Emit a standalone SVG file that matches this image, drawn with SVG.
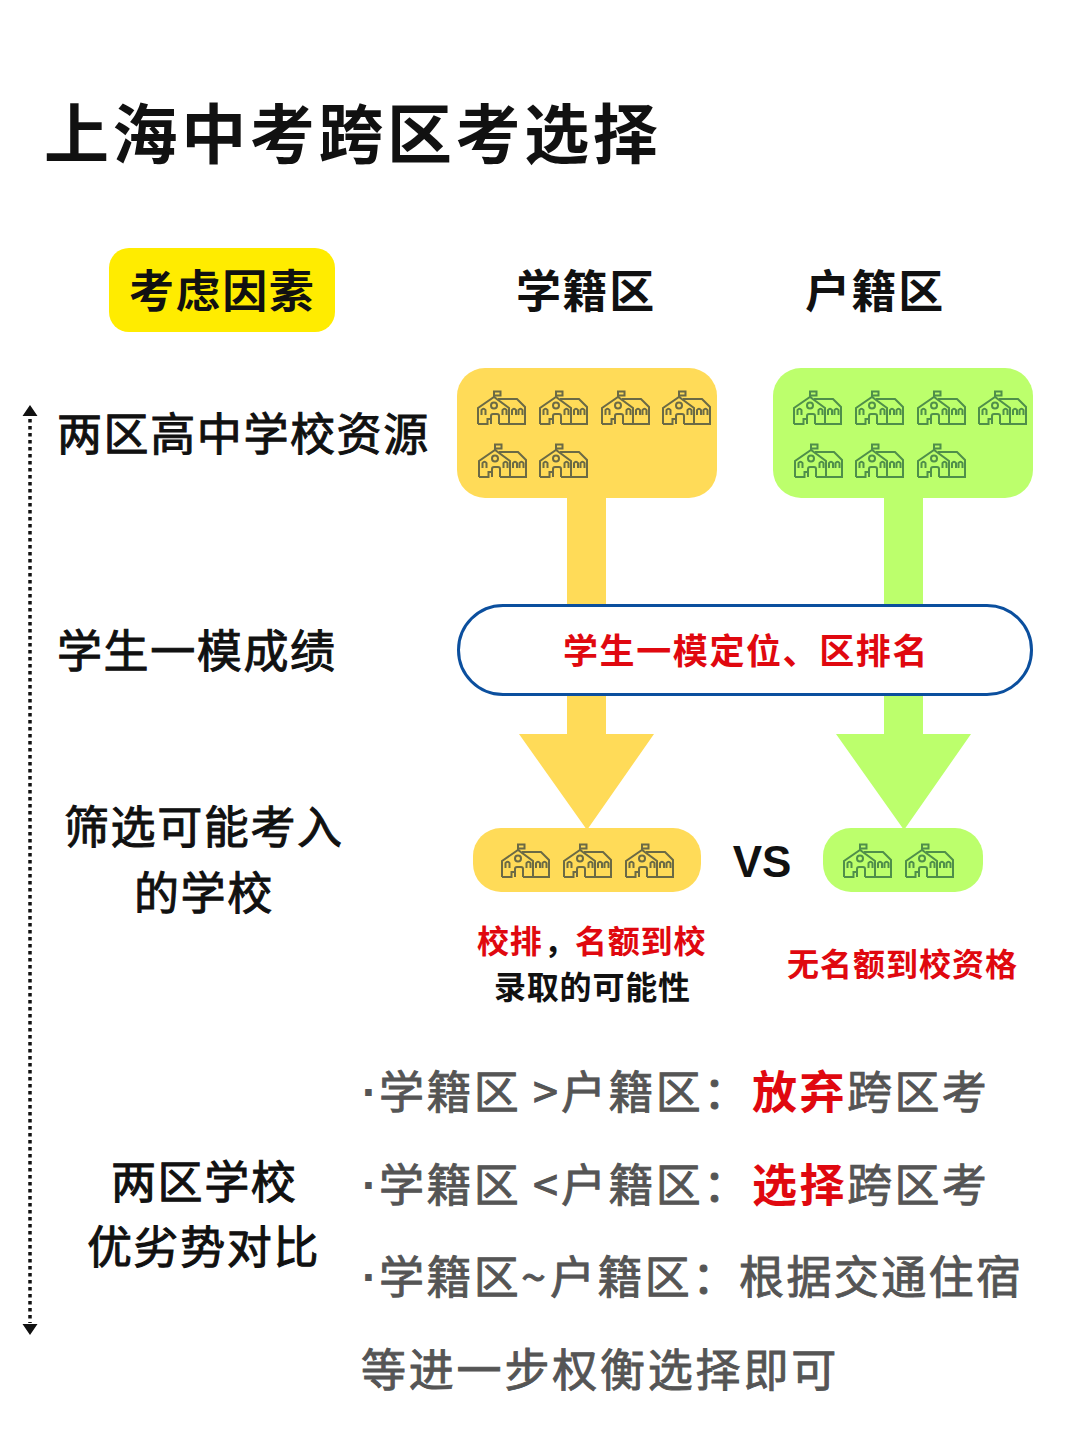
<svg xmlns="http://www.w3.org/2000/svg" xmlns:xlink="http://www.w3.org/1999/xlink" width="1080" height="1443" viewBox="0 0 1080 1443">
<style>
text{font-family:"Noto Sans CJK SC","Noto Sans",sans-serif;fill:#111}
.h{font-weight:700;stroke:none}
.t{font-size:45px;letter-spacing:1.600px;stroke:#111;stroke-width:1px}
.tb{font-size:45px;letter-spacing:1.600px;font-weight:700}
.r{fill:#e0080f;font-weight:700;stroke:none}
.s{font-size:32px;font-weight:700;letter-spacing:.8px}
.g{font-size:45px;letter-spacing:2.400px;fill:#555;stroke:#555;stroke-width:.9px}
.d{font-size:46px;fill:#555;font-weight:700;font-family:"Liberation Sans",sans-serif}
.rg{font-size:45px;letter-spacing:2.400px;fill:#e0080f;font-weight:700}
.ic{fill:none;stroke:#6b6a45;stroke-width:2}
.ig{fill:none;stroke:#4f8f4a;stroke-width:2}
</style>
<defs>
<g id="school">
<path d="M17 6V0.500H23.500V4.500H17M1 33V17L17 6L32 17V33M1 33H10.500V28H14V33M14 33V25Q14 23 16 23H20Q22 23 22 25V33M22 33H48V16L40 8H21M4.500 24V19Q6.500 16.500 8.500 19V24M25.500 24V19Q27.500 16.500 29.500 19V24M35 24V19Q37 16.500 39 19V24M41.500 24V19Q43.500 16.500 45.500 19V24"/>
<circle cx="17" cy="14.500" r="3"/>
</g>
</defs>
<rect width="1080" height="1443" fill="#fff"/>
<g id="connectors">
<path d="M30 419V1323" fill="none" stroke="#111" stroke-width="3.500" stroke-dasharray="3.500 3.500"/>
<path d="M30 405L37.500 416H22.500ZM30 1335L37.500 1324H22.500Z" fill="#111"/>
<path d="M567 490H606V734H654L587 830L519 734H567Z" fill="#ffdb58"/>
<path d="M884 490H923V734H971L904 830L836 734H884Z" fill="#bcff6c"/>
</g>
<text id="title" x="44" y="158" class="h" font-size="65" letter-spacing="3.600">上海中考跨区考选择</text>
<g id="factor-header"><rect x="109" y="248" width="226" height="84" rx="20" fill="#ffec00"/><text x="129" y="308" class="tb">考虑因素</text></g>
<g id="col-xueji"><text x="516" y="308" class="tb">学籍区</text></g>
<g id="col-huji"><text x="805" y="308" class="tb">户籍区</text></g>
<g id="factor-1"><text x="57" y="451" class="t">两区高中学校资源</text></g>
<g id="factor-2"><text x="57" y="668" class="t">学生一模成绩</text></g>
<g id="factor-3"><text x="64" y="844" class="t">筛选可能考入</text><text x="134" y="910" class="t">的学校</text></g>
<g id="factor-4"><text x="111" y="1199" class="t">两区学校</text><text x="87" y="1264" class="t">优劣势对比</text></g>
<g id="xueji-schools"><rect x="457" y="368" width="260" height="130" rx="28" fill="#ffdb58"/>
<g class="ic"><use xlink:href="#school" x="477" y="391"/><use xlink:href="#school" x="539" y="391"/><use xlink:href="#school" x="601" y="391"/><use xlink:href="#school" x="662" y="391"/><use xlink:href="#school" x="478" y="444"/><use xlink:href="#school" x="539" y="444"/></g></g>
<g id="huji-schools"><rect x="773" y="368" width="260" height="130" rx="28" fill="#bcff6c"/>
<g class="ig"><use xlink:href="#school" x="793" y="391"/><use xlink:href="#school" x="855" y="391"/><use xlink:href="#school" x="917" y="391"/><use xlink:href="#school" x="978" y="391"/><use xlink:href="#school" x="794" y="444"/><use xlink:href="#school" x="855" y="444"/><use xlink:href="#school" x="917" y="444"/></g></g>
<g id="rank"><rect x="458.500" y="605.500" width="573" height="89" rx="44.500" fill="#fff" stroke="#0b4f9e" stroke-width="3"/><text x="563" y="664" font-size="35" letter-spacing="1.600" class="r">学生一模定位、区排名</text></g>
<g id="xueji-result"><rect x="473" y="828" width="228" height="64" rx="28" fill="#ffdb58"/>
<g class="ic"><use xlink:href="#school" x="501" y="844"/><use xlink:href="#school" x="563" y="844"/><use xlink:href="#school" x="625" y="844"/></g></g>
<text id="vs" x="762" y="877" text-anchor="middle" font-size="44" style="font-family:'Liberation Sans',sans-serif" class="h">VS</text>
<g id="huji-result"><rect x="823" y="828" width="160" height="64" rx="28" fill="#bcff6c"/>
<g class="ig"><use xlink:href="#school" x="843" y="844"/><use xlink:href="#school" x="905" y="844"/></g></g>
<g id="note-xueji"><text y="953" class="s"><tspan x="477" class="r">校排</tspan><tspan x="544">，</tspan><tspan x="575" class="r">名额到校</tspan></text><text x="494" y="999" class="s">录取的可能性</text></g>
<text id="note-huji" x="787" y="976" class="s r" style="letter-spacing:1px">无名额到校资格</text>
<g id="conclusion">
<text x="362" y="1108" class="d">·</text><text y="1109" class="g"><tspan x="379">学籍区</tspan><tspan x="533">&gt;</tspan><tspan x="561">户籍区：</tspan></text><text x="752" y="1109" class="rg">放弃</text><text x="847" y="1109" class="g">跨区考</text>
<text x="362" y="1201" class="d">·</text><text y="1202" class="g"><tspan x="379">学籍区</tspan><tspan x="533">&lt;</tspan><tspan x="561">户籍区：</tspan></text><text x="752" y="1202" class="rg">选择</text><text x="847" y="1202" class="g">跨区考</text>
<text x="362" y="1293" class="d">·</text><text y="1294" class="g"><tspan x="379">学籍区</tspan><tspan x="521">~</tspan><tspan x="550">户籍区：</tspan><tspan x="739">根据交通住宿</tspan></text>
<text x="361" y="1387" class="g" style="letter-spacing:2.800px">等进一步权衡选择即可</text>
</g>
</svg>
